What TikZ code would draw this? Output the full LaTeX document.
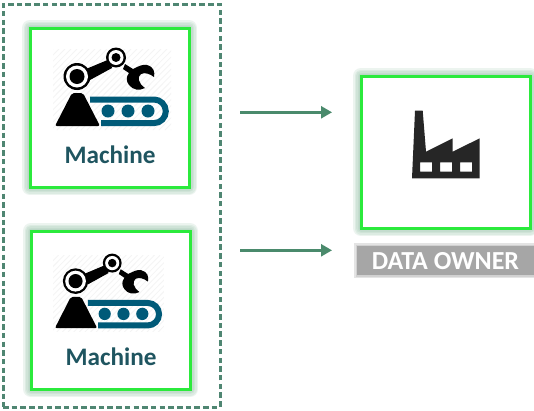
\documentclass[tikz,border=0pt]{standalone}
\usepackage{fontspec}
\setmainfont{Carlito}
\usetikzlibrary{arrows.meta,calc}
\definecolor{boxgreen}{HTML}{2BEA3C}
\definecolor{glowgreen}{HTML}{8FBFA5}
\definecolor{linegreen}{HTML}{4A8A6C}
\definecolor{dashgreen}{HTML}{4F8672}
\definecolor{teal}{HTML}{005A78}
\definecolor{labelcol}{HTML}{1F5560}
\definecolor{barcol}{HTML}{A6A6A6}
\definecolor{hatch}{HTML}{F4F4F4}
\definecolor{factory}{HTML}{262626}
\tikzset{
  greenbox/.style={draw=boxgreen,line width=3pt,fill=white,inner sep=0pt,outer sep=0pt,anchor=north west},
  flowarrow/.style={draw=linegreen,line width=2.4pt,-{Triangle[length=11pt,width=12pt]}},
  grouping/.style={draw=dashgreen,line width=3pt,dash pattern=on 5.5pt off 3.2pt},
  machinelabel/.style={text=labelcol,font=\bfseries\fontsize{25.2}{25}\selectfont,inner sep=0pt},
  ownerlabel/.style={text=white,font=\bfseries\fontsize{26}{26}\selectfont,inner sep=0pt},
}
\newcommand{\glowrect}[3]{%
  \foreach \w in {16,13,10,7,4}{
    \draw[#3,opacity=.17,line width=\w pt,line join=round] #1 rectangle #2;
  }}
\newcommand{\roboticon}{%
  \begin{scope}
    \clip (0,0) rectangle (118,81);
    \foreach \k in {0,6,...,200}{
      \draw[hatch,line width=.8pt] (\k-80,81) -- (\k,0);
    }
  \end{scope}
  % conveyor
  \draw[teal,line width=6pt] (37,50.5) -- (101,50.5) arc[start angle=-90,end angle=90,radius=11.8] -- (48,74.1);
  \fill[teal] (55,62) circle (6.5) (75,62) circle (6.5) (95,62) circle (6.5);
  % base
  \fill[black,rounded corners=2pt] (2,77) -- (19,44) -- (30,44) -- (47,77) -- cycle;
  % arm
  \fill[black] (33,20) -- (57,10) -- (59,19) -- (37,31) -- cycle;
  % big joint
  \fill[black] (24,27.5) circle (13.5);
  \fill[white] (24,27.5) circle (11);
  \fill[black] (24,27.5) circle (7.5);
  % small joint
  \fill[black] (63,8.5) circle (10);
  \fill[white] (63,8.5) circle (7.5);
  \fill[black] (63,8.5) circle (4.5);
  % wrench
  \fill[black] (72,15) -- (80,20) .. controls (86,17) and (90,15) .. (94,16)
    .. controls (101,18) and (102,23) .. (101,28)
    .. controls (97,25) and (92,23) .. (88,25)
    .. controls (84,28) and (85,34) .. (92,39)
    .. controls (86,42) and (80,41) .. (76,36)
    .. controls (73,32) and (73,28) .. (76,24) -- (70,20) -- cycle;
}
\begin{document}
\begin{tikzpicture}[x=1pt,y=-1pt]
\useasboundingbox (0,0) rectangle (534,410);
\fill[white] (0,0) rectangle (534,410);

% group
\node[grouping,inner sep=0pt,outer sep=0pt,minimum width=217pt,minimum height=403pt,anchor=north west] (group) at (3,4) {};

% glows
\glowrect{(30,28)}{(189,187)}{glowgreen}
\glowrect{(31,231)}{(190,389)}{glowgreen}
\glowrect{(361,76)}{(530,228)}{glowgreen}
\foreach \w in {6,3}{
  \draw[barcol,opacity=.3,line width=\w pt] (357,246) rectangle (540,275);
}

% boxes
\node[greenbox,minimum width=159pt,minimum height=159pt] (m1) at (30,28) {};
\node[greenbox,minimum width=159pt,minimum height=158pt] (m2) at (31,231) {};
\node[greenbox,minimum width=169pt,minimum height=152pt] (owner) at (361,76) {};

% icons
\begin{scope}[shift={(53,49)}]
  \roboticon
\end{scope}
\begin{scope}[shift={(53,255)},x=.94pt,y=-.95pt]
  \roboticon
\end{scope}

% factory
\fill[factory,even odd rule]
  (415,110.7) -- (422.7,110.7) -- (426,151.7) -- (452.7,138.3) -- (452.7,151.7) -- (479.7,138.3)
  -- (479.7,178.3) -- (412,178.3) -- cycle
  (420,162.3) rectangle (432,171.7)
  (440,162.3) rectangle (452,171.7)
  (460,162.3) rectangle (472,171.7);

% labels
\node[machinelabel] (l1) at (110,155) {Machine};
\node[machinelabel] (l2) at (111,357) {Machine};
\fill[barcol] (357,246) rectangle (534,275);
\node[ownerlabel] (l3) at (445.5,261) {DATA OWNER};

% arrows
\coordinate (a1s) at (240,112.3);
\coordinate (a1e) at (332,112.3);
\coordinate (a2s) at (240,250.3);
\coordinate (a2e) at (332,250.3);
\draw[flowarrow] (a1s) -- (a1e);
\draw[flowarrow] (a2s) -- (a2e);
\end{tikzpicture}
\end{document}
